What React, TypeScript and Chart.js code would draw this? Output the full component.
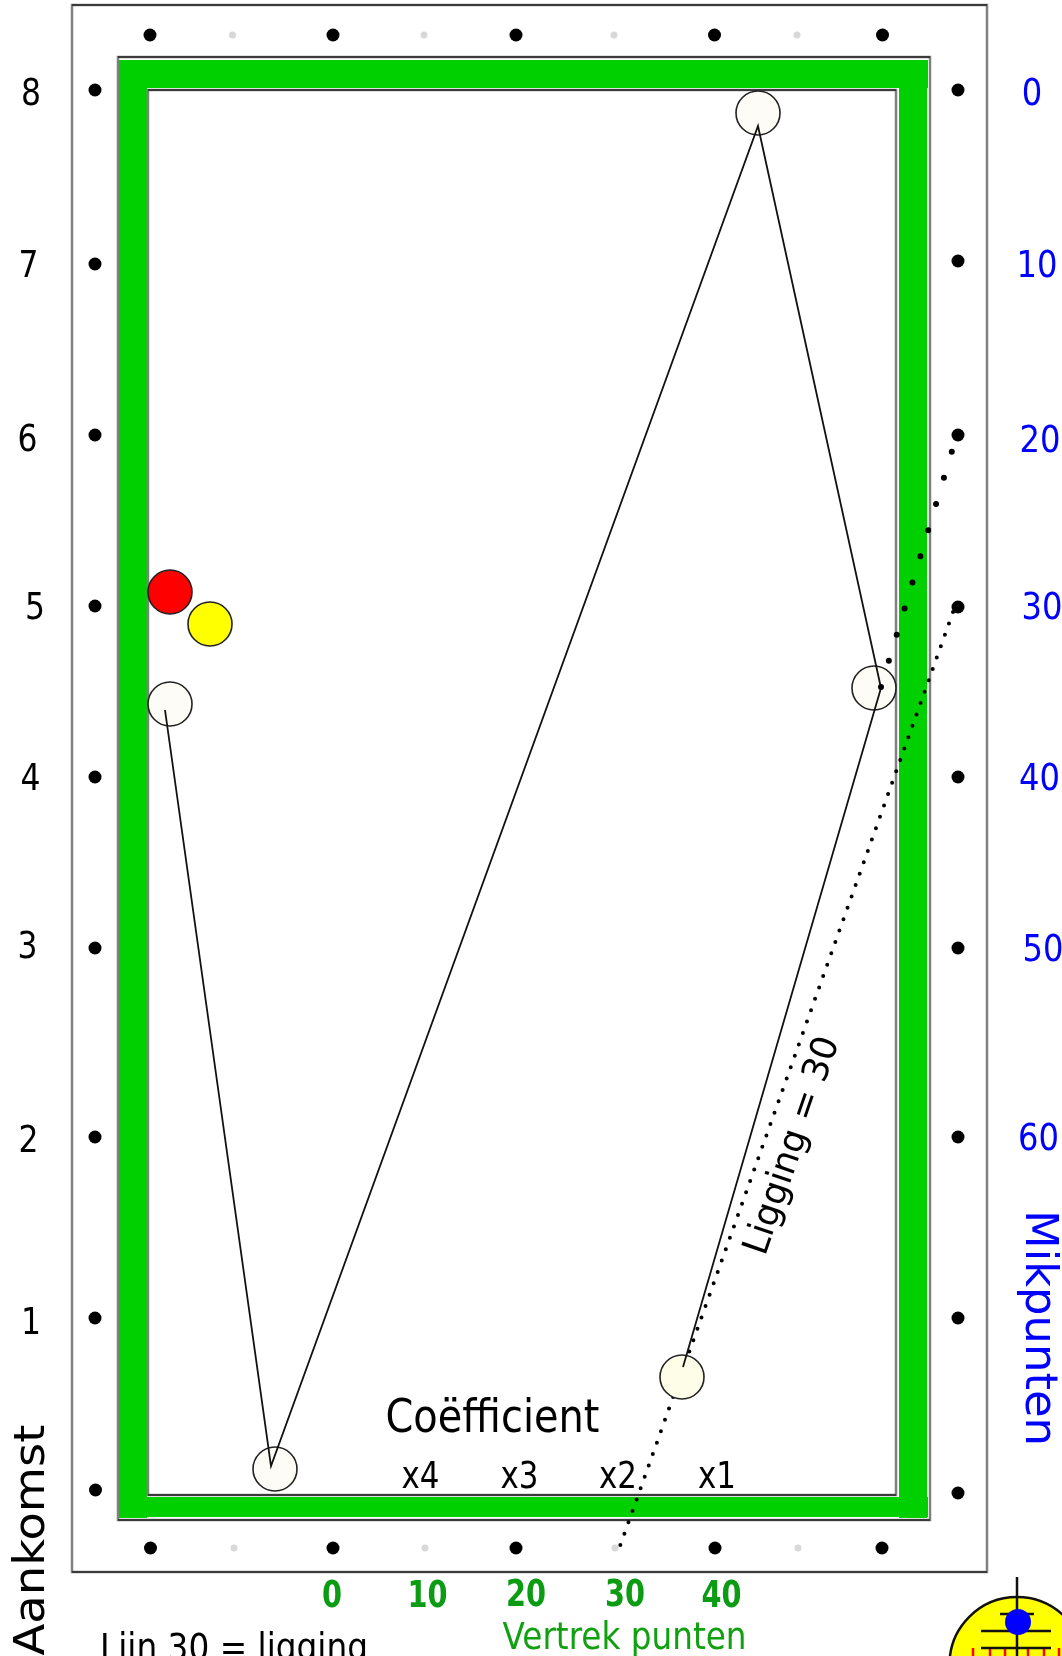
import React, { useEffect, useRef } from "react";
import { Chart, registerables } from "chart.js";

Chart.register(...registerables);

// Table drawn in a 1062 x 1656 unit coordinate system.
const frameX = [72, 987, 987, 72, 72];
const frameY = [5, 5, 1572, 1572, 5];
const tableOuterX = [118, 930, 930, 118, 118];
const tableOuterY = [57, 57, 1520, 1520, 57];
const tableInnerX = [148, 896, 896, 148, 148];
const tableInnerY = [90, 90, 1495, 1495, 90];

const railTopX = [119, 928];
const railTopY = [74, 74];
const railBottomX = [119, 928];
const railBottomY = [1507, 1507];
const railLeftX = [133, 133];
const railLeftY = [60, 1518];
const railRightX = [913, 913];
const railRightY = [60, 1518];

const topDiamondX = [150, 333, 516, 714.5, 882.5];
const topDiamondY = [35, 35, 35, 35, 35];
const topMinorX = [232.5, 424, 614, 797];
const topMinorY = [35, 35, 35, 35];
const bottomDiamondX = [150.5, 333, 516, 715, 882];
const bottomDiamondY = [1548, 1548, 1548, 1548, 1548];
const bottomMinorX = [234, 425, 615, 798];
const bottomMinorY = [1548, 1548, 1548, 1548];
const leftDiamondX = [95, 95, 95, 95, 95, 95, 95, 95, 95.5];
const leftDiamondY = [90, 264, 435, 606, 777, 948, 1137, 1318, 1490];
const rightDiamondX = [958, 958, 958, 958, 958, 958, 958, 958, 958];
const rightDiamondY = [90, 261, 435, 607, 777, 948, 1137, 1318, 1493];

const cuePathX = [165, 271, 758, 881, 683];
const cuePathY = [710, 1466, 126, 688, 1367];
const aimLineX = [881, 952];
const aimLineY = [687, 451];
const layLineX = [953, 620];
const layLineY = [612, 1546];

const cueBallX = [170, 275, 758, 874];
const cueBallY = [704, 1469, 113, 688];
const startBallX = [682];
const startBallY = [1377];
const redBallX = [170];
const redBallY = [592];
const yellowBallX = [210];
const yellowBallY = [624];

const leftLabels = ["8", "7", "6", "5", "4", "3", "2", "1"];
const leftLabelX = [31, 28.5, 27.5, 35, 30.5, 27.5, 28.5, 31];
const leftLabelY = [105, 277, 451, 619, 790, 958, 1152, 1334];
const aimLabels = ["0", "10", "20", "30", "40", "50", "60"];
const aimLabelX = [1032, 1037, 1040, 1042, 1039.5, 1043, 1038.5];
const aimLabelY = [105, 277, 452, 619, 790, 961, 1150];
const startLabels = ["0", "10", "20", "30", "40"];
const startLabelX = [332, 427.5, 526, 625, 721.5];
const startLabelY = [1607, 1607, 1606, 1606, 1607];
const coefLabels = ["x4", "x3", "x2", "x1"];
const coefLabelX = [420.5, 519.5, 618, 717];
const coefLabelY = [1488, 1488, 1488, 1488];

// Spot icon in the lower right corner.
const spotDiscX = [1017];
const spotDiscY = [1664.5];
const spotDotX = [1018];
const spotDotY = [1622];
const spotStemX = [1017, 1017];
const spotStemY = [1577, 1656];
const spotBarA = { x: [1000, 1034], y: [1614, 1614] };
const spotBarB = { x: [981, 1051], y: [1631, 1631] };
const spotBarC = { x: [981, 1051], y: [1648, 1648] };
const spotTicksX = [973, 990, 1005, 1028, 1044, 1059];

const pts = (xs: number[], ys: number[]) => xs.map((x, i) => ({ x, y: ys[i] }));

const line = (xs: number[], ys: number[], color: string, width: number, order: number, extra: any = {}) => ({
  data: pts(xs, ys),
  showLine: true,
  borderColor: color,
  borderWidth: width,
  pointRadius: 0,
  tension: 0,
  clip: false,
  order,
  ...extra,
});

const dots = (xs: number[], ys: number[], fill: string, radius: number, order: number, stroke = fill, sw = 0) => ({
  data: pts(xs, ys),
  showLine: false,
  backgroundColor: fill,
  borderColor: stroke,
  borderWidth: sw,
  pointRadius: radius,
  pointHoverRadius: radius,
  clip: false,
  order,
});

// Horizontal edges of a rectangle are drawn darker than its vertical ones.
const edges = (xs: number[], ys: number[], order: number) => [
  line(xs, ys, "#808080", 2.5, order, { borderCapStyle: "square", borderJoinStyle: "miter" }),
  line([xs[0], xs[1]], [ys[0], ys[1]], "#3a3a3a", 2, order - 0.5),
  line([xs[2], xs[3]], [ys[2], ys[3]], "#3a3a3a", 2, order - 0.5),
];

type T = { t: string; x: number; y: number; size: number; w: number; color: string; bold?: boolean; rot?: number };

const BLACK = "#000000";
const BLUE = "#0000ff";
const GREEN = "#0c9c14";

const texts: T[] = [
  ...leftLabels.map((t, i) => ({ t, x: leftLabelX[i], y: leftLabelY[i], size: 37, w: 20, color: BLACK })),
  ...aimLabels.map((t, i) => ({ t, x: aimLabelX[i], y: aimLabelY[i], size: 37, w: t.length * 20.5, color: BLUE })),
  ...startLabels.map((t, i) => ({ t, x: startLabelX[i], y: startLabelY[i], size: 38, w: t.length * 20, color: GREEN, bold: true })),
  ...coefLabels.map((t, i) => ({ t, x: coefLabelX[i], y: coefLabelY[i], size: 37, w: 38, color: BLACK })),
  { t: "Coëfficient", x: 492.5, y: 1432, size: 46, w: 214, color: BLACK },
  { t: "Vertrek punten", x: 624.5, y: 1649, size: 37, w: 244, color: "#10a010" },
  { t: "Lijn 30 = ligging", x: 234, y: 1660, size: 37, w: 268, color: BLACK },
  { t: "Ligging = 30", x: 802, y: 1149, size: 36, w: 228, color: BLACK, rot: -71 },
  { t: "Mikpunten", x: 1026, y: 1328, size: 44, w: 236, color: BLUE, rot: 90 },
  { t: "Aankomst", x: 44, y: 1540, size: 42, w: 231, color: BLACK, rot: -90 },
];

const textPlugin = {
  id: "diagramText",
  afterDatasetsDraw(chart: any) {
    const { ctx, scales } = chart;
    for (const it of texts) {
      ctx.save();
      ctx.translate(scales.x.getPixelForValue(it.x), scales.y.getPixelForValue(it.y));
      if (it.rot) ctx.rotate((it.rot * Math.PI) / 180);
      ctx.font = `${it.bold ? "bold " : ""}${it.size}px "DejaVu Sans"`;
      ctx.textAlign = "center";
      ctx.textBaseline = "alphabetic";
      ctx.fillStyle = it.color;
      const natural = ctx.measureText(it.t).width;
      ctx.scale(it.w / natural, 1);
      ctx.fillText(it.t, 0, 0);
      ctx.restore();
    }
  },
};

export default function App() {
  const ref = useRef<HTMLCanvasElement | null>(null);
  useEffect(() => {
    if (!ref.current) return;
    const GRAIL = "#00d000";
    const chart = new Chart(ref.current, {
      type: "scatter",
      data: {
        datasets: [
          ...edges(frameX, frameY, 30),
          ...edges(tableOuterX, tableOuterY, 30),
          line(railTopX, railTopY, GRAIL, 28, 29, { borderCapStyle: "butt" }),
          line(railBottomX, railBottomY, GRAIL, 20, 29, { borderCapStyle: "butt" }),
          line(railLeftX, railLeftY, GRAIL, 28, 29, { borderCapStyle: "butt" }),
          line(railRightX, railRightY, GRAIL, 28, 29, { borderCapStyle: "butt" }),
          ...edges(tableInnerX, tableInnerY, 28),
          dots(topDiamondX, topDiamondY, "#000000", 6.5, 27),
          dots(bottomDiamondX, bottomDiamondY, "#000000", 6.5, 27),
          dots(leftDiamondX, leftDiamondY, "#000000", 6.5, 27),
          dots(rightDiamondX, rightDiamondY, "#000000", 6.5, 27),
          dots(topMinorX, topMinorY, "#d8d8d8", 3.5, 27),
          dots(bottomMinorX, bottomMinorY, "#d8d8d8", 3.5, 27),
          line(layLineX, layLineY, "#000000", 4, 20, { borderDash: [0, 12.08], borderCapStyle: "round" }),
          dots(cueBallX, cueBallY, "#fdfcf6", 22, 15, "#222222", 1.6),
          dots(startBallX, startBallY, "#fdfde8", 22, 15, "#222222", 1.6),
          dots(redBallX, redBallY, "#ff0000", 22, 15, "#222222", 1.6),
          dots(yellowBallX, yellowBallY, "#ffff00", 22, 15, "#222222", 1.6),
          line(cuePathX, cuePathY, "#111111", 1.8, 10),
          line(aimLineX, aimLineY, "#000000", 6, 9, { borderDash: [0, 27.3], borderCapStyle: "round" }),
          dots(spotDiscX, spotDiscY, "#ffff00", 67.5, 8, "#111111", 2.5),
          line(spotStemX, spotStemY, "#111111", 2.5, 6),
          line(spotBarA.x, spotBarA.y, "#111111", 2.5, 6),
          line(spotBarB.x, spotBarB.y, "#111111", 2.5, 6),
          line(spotBarC.x, spotBarC.y, "#111111", 2.5, 6),
          ...spotTicksX.map((x) => line([x, x], [1648, 1656], "#ff0000", 2.5, 7)),
          dots(spotDotX, spotDotY, "#0000ff", 13, 5),
        ] as any,
      },
      options: {
        responsive: false,
        animation: false,
        layout: { padding: 0, autoPadding: false },
        events: [],
        plugins: { legend: { display: false }, tooltip: { enabled: false }, title: { display: false } },
        scales: {
          x: { type: "linear", min: 0, max: 1062, display: false },
          y: { type: "linear", min: 0, max: 1656, reverse: true, display: false },
        },
      } as any,
      plugins: [textPlugin],
    });
    return () => chart.destroy();
  }, []);
  return (
    <canvas
      ref={ref}
      width={1062}
      height={1656}
      style={{ position: "absolute", left: 0, top: 0, width: 1062, height: 1656, display: "block", filter: "blur(0.5px)" }}
    />
  );
}
